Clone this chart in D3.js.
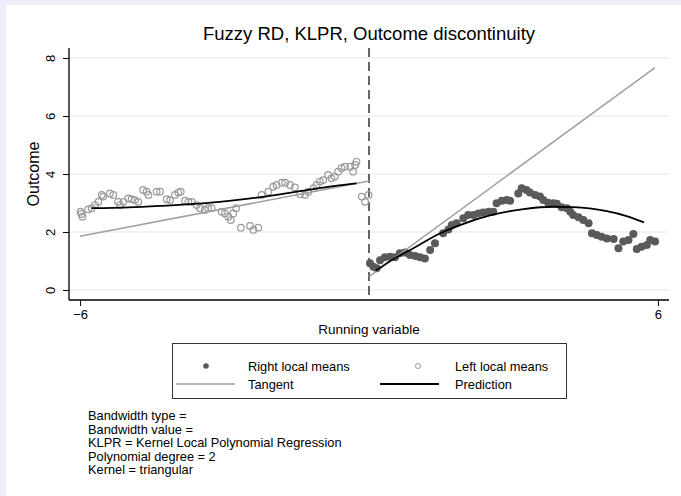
<!DOCTYPE html>
<html>
<head>
<meta charset="utf-8">
<script src="https://cdn.jsdelivr.net/npm/d3@7"></script>
<style>
	body { margin: 0; background: #eeeefb; }
	svg { display: block; font-family: "Liberation Sans", Arial, sans-serif; }
</style>
</head>
<body>
<div id="chart"></div>
<script>
// left local means (hollow), [running variable, outcome]
var leftMeans = [
	[-5.99, 2.70], [-5.95, 2.53], [-5.97, 2.62], [-5.83, 2.78], [-5.76, 2.82], [-5.69, 2.93], [-5.62, 3.04],
	[-5.55, 3.28], [-5.52, 3.22], [-5.38, 3.33], [-5.31, 3.28], [-5.21, 3.04], [-5.17, 2.93],
	[-5.10, 3.04], [-5.00, 3.16], [-4.93, 3.13], [-4.86, 3.10], [-4.79, 3.04], [-4.69, 3.45],
	[-4.62, 3.39], [-4.58, 3.28], [-4.41, 3.39], [-4.34, 3.39], [-4.20, 3.13], [-4.13, 3.10],
	[-4.03, 3.28], [-3.96, 3.36], [-3.91, 3.39], [-3.82, 3.08], [-3.75, 3.04], [-3.68, 3.04],
	[-3.58, 2.93], [-3.51, 2.82], [-3.41, 2.76], [-3.34, 2.82], [-3.27, 2.82], [-3.06, 2.70],
	[-2.99, 2.64], [-2.92, 2.53], [-2.87, 2.41], [-2.82, 2.64], [-2.76, 2.82], [-2.66, 2.15],
	[-2.47, 2.21], [-2.40, 2.07], [-2.30, 2.15], [-2.23, 3.28], [-2.09, 3.39], [-1.99, 3.56],
	[-1.92, 3.62], [-1.81, 3.70], [-1.74, 3.70], [-1.64, 3.62], [-1.54, 3.54], [-1.43, 3.30],
	[-1.33, 3.28], [-1.26, 3.39], [-1.15, 3.51], [-1.09, 3.62], [-1.02, 3.74], [-0.95, 3.79],
	[-0.85, 3.97], [-0.78, 3.85], [-0.71, 3.91], [-0.64, 4.08], [-0.57, 4.20], [-0.50, 4.25],
	[-0.39, 4.25], [-0.29, 4.31], [-0.26, 4.42], [-0.33, 4.08], [-0.15, 3.22], [-0.08, 3.04],
	[-0.01, 3.28]
];

// right local means (filled)
var rightMeans = [
	[0.02, 0.92], [0.09, 0.80], [0.16, 0.75], [0.23, 1.03], [0.33, 1.13], [0.44, 1.15], [0.54, 1.13],
	[0.64, 1.27], [0.75, 1.29], [0.85, 1.21], [0.96, 1.17], [1.06, 1.13], [1.16, 1.09],
	[1.27, 1.38], [1.37, 1.61], [1.54, 1.96], [1.65, 2.09], [1.72, 2.24], [1.82, 2.30],
	[1.96, 2.47], [2.06, 2.59], [2.17, 2.59], [2.27, 2.64], [2.37, 2.67], [2.48, 2.70],
	[2.58, 2.70], [2.65, 2.99], [2.76, 3.08], [2.86, 3.10], [2.93, 3.08], [3.10, 3.33],
	[3.17, 3.51], [3.27, 3.45], [3.34, 3.36], [3.45, 3.28], [3.55, 3.22], [3.62, 3.10],
	[3.72, 3.01], [3.83, 2.99], [3.90, 2.97], [4.00, 2.85], [4.11, 2.82], [4.18, 2.70],
	[4.24, 2.59], [4.35, 2.51], [4.45, 2.41], [4.56, 2.30], [4.63, 1.96], [4.73, 1.90],
	[4.83, 1.84], [4.94, 1.78], [5.08, 1.76], [5.18, 1.44], [5.28, 1.67], [5.39, 1.72],
	[5.49, 1.93], [5.56, 1.41], [5.66, 1.49], [5.77, 1.55], [5.84, 1.72], [5.94, 1.67]
];

// tangent lines at the cutoff
var tangentLeft = [[-6.0, 1.85], [0.0, 3.76]];
var tangentRight = [[0.0, 0.46], [5.94, 7.67]];

// prediction curves
var predictionLeft = [
	[-5.76, 2.82], [-5.0, 2.85], [-4.34, 2.90], [-3.7, 2.96], [-3.1, 3.04], [-2.5, 3.15],
	[-1.92, 3.28], [-1.23, 3.46], [-0.7, 3.59], [-0.26, 3.68]
];
var predictionRight = [
	[0.14, 0.66], [0.50, 1.06], [0.92, 1.44], [1.47, 1.95], [1.89, 2.24], [2.51, 2.57],
	[2.93, 2.72], [3.21, 2.79], [3.83, 2.87], [4.24, 2.86], [4.94, 2.72], [5.35, 2.55], [5.71, 2.33]
];

var xTicks = [-6, 6];
var yTicks = [0, 2, 4, 6, 8];

var legendItems = [
	{ label: 'Right local means', type: 'dot', col: 0, row: 0 },
	{ label: 'Left local means', type: 'ring', col: 1, row: 0 },
	{ label: 'Tangent', type: 'tangent', col: 0, row: 1 },
	{ label: 'Prediction', type: 'prediction', col: 1, row: 1 }
];

var notes = [
	'Bandwidth type =',
	'Bandwidth value =',
	'KLPR = Kernel Local Polynomial Regression',
	'Polynomial degree = 2',
	'Kernel = triangular'
];

var sizes = { width: 681, height: 496 };
var plot = { left: 69, right: 669, top: 48, bottom: 300 };
var font = 'Liberation Sans, Arial, sans-serif';

var svg = d3.select( '#chart' ).append( 'svg' )
	.attr( 'width', sizes.width )
	.attr( 'height', sizes.height );

svg.append( 'rect' )
	.attr( 'width', sizes.width ).attr( 'height', sizes.height )
	.attr( 'fill', '#eeeefb' );

svg.append( 'rect' )
	.attr( 'x', 6 ).attr( 'y', 5 )
	.attr( 'width', sizes.width - 6 ).attr( 'height', sizes.height - 5 )
	.attr( 'fill', '#ffffff' );

var x = d3.scaleLinear().domain( [ -6.23, 6.23 ] ).range( [ plot.left, plot.right ] );
var y = d3.scaleLinear().domain( [ -10 / 29, 8 + 10 / 29 ] ).range( [ plot.bottom, plot.top ] );

// gridlines
svg.append( 'g' ).selectAll( 'line' )
	.data( yTicks )
	.enter().append( 'line' )
	.attr( 'x1', plot.left ).attr( 'x2', plot.right )
	.attr( 'y1', function ( d ) { return y( d ); } )
	.attr( 'y2', function ( d ) { return y( d ); } )
	.style( 'stroke', '#e8e8e8' )
	.style( 'stroke-width', 1.2 );

// axes
var xAxis = svg.append( 'g' )
	.attr( 'transform', 'translate(0,' + plot.bottom + ')' )
	.call( d3.axisBottom( x ).tickValues( xTicks ).tickSize( 6 ).tickPadding( 4 )
		.tickFormat( function ( d ) { return d < 0 ? '\u2212' + Math.abs( d ) : d; } ) );
xAxis.select( '.domain' ).attr( 'd', 'M' + plot.left + ',0H' + plot.right ).style( 'stroke', '#000' ).style( 'stroke-width', 1.3 );
xAxis.selectAll( '.tick line' ).style( 'stroke', '#000' );
xAxis.selectAll( 'text' ).style( 'font-size', '13px' ).style( 'fill', '#000' ).style( 'font-family', font );

var yAxis = svg.append( 'g' )
	.attr( 'transform', 'translate(' + plot.left + ',0)' )
	.call( d3.axisLeft( y ).tickValues( yTicks ).tickSize( 6 ).tickPadding( 0 ) );
yAxis.select( '.domain' ).attr( 'd', 'M0,' + plot.top + 'V' + plot.bottom ).style( 'stroke', '#000' ).style( 'stroke-width', 1.3 );
yAxis.selectAll( '.tick line' ).style( 'stroke', '#000' );
yAxis.selectAll( 'text' )
	.attr( 'x', null ).attr( 'dy', null )
	.attr( 'text-anchor', 'middle' )
	.attr( 'transform', 'translate(-14.5,0) rotate(-90)' )
	.style( 'font-size', '13px' ).style( 'fill', '#000' ).style( 'font-family', font );

// cutoff
svg.append( 'line' )
	.attr( 'x1', x( 0 ) ).attr( 'x2', x( 0 ) )
	.attr( 'y1', plot.top ).attr( 'y2', plot.bottom )
	.style( 'stroke', '#333' )
	.style( 'stroke-width', 1.5 )
	.style( 'stroke-dasharray', '9,5' );

var line = d3.line()
	.x( function ( d ) { return x( d[0] ); } )
	.y( function ( d ) { return y( d[1] ); } );

// left local means
svg.append( 'g' ).selectAll( 'circle' )
	.data( leftMeans )
	.enter().append( 'circle' )
	.attr( 'cx', function ( d ) { return x( d[0] ); } )
	.attr( 'cy', function ( d ) { return y( d[1] ); } )
	.attr( 'r', 3.3 )
	.style( 'fill', 'none' )
	.style( 'stroke', '#9a9a9a' )
	.style( 'stroke-width', 1.2 );

// right local means
svg.append( 'g' ).selectAll( 'circle' )
	.data( rightMeans )
	.enter().append( 'circle' )
	.attr( 'cx', function ( d ) { return x( d[0] ); } )
	.attr( 'cy', function ( d ) { return y( d[1] ); } )
	.attr( 'r', 4 )
	.style( 'fill', '#5a5a5a' );

[ tangentLeft, tangentRight ].forEach( function ( t ) {
	svg.append( 'path' ).datum( t )
		.attr( 'd', line )
		.style( 'fill', 'none' )
		.style( 'stroke', '#a0a0a0' )
		.style( 'stroke-width', 1.5 );
} );

[ predictionLeft, predictionRight ].forEach( function ( p ) {
	svg.append( 'path' ).datum( p )
		.attr( 'd', line.curve( d3.curveMonotoneX ) )
		.style( 'fill', 'none' )
		.style( 'stroke', '#000' )
		.style( 'stroke-width', 1.8 );
} );

// titles
svg.append( 'text' )
	.attr( 'x', 369 ).attr( 'y', 40 )
	.attr( 'text-anchor', 'middle' )
	.style( 'font-size', '18.5px' )
	.text( 'Fuzzy RD, KLPR, Outcome discontinuity' );

svg.append( 'text' )
	.attr( 'transform', 'translate(39,' + y( 4 ) + ') rotate(-90)' )
	.attr( 'text-anchor', 'middle' )
	.style( 'font-size', '16px' )
	.text( 'Outcome' );

svg.append( 'text' )
	.attr( 'x', 369 ).attr( 'y', 334 )
	.attr( 'text-anchor', 'middle' )
	.style( 'font-size', '13.5px' )
	.text( 'Running variable' );

// legend
var legend = svg.append( 'g' );
legend.append( 'rect' )
	.attr( 'x', 172.5 ).attr( 'y', 343.5 )
	.attr( 'width', 394 ).attr( 'height', 55 )
	.style( 'fill', '#fff' )
	.style( 'stroke', '#333' )
	.style( 'stroke-width', 1 );

var colX = [ 176, 380 ];
var rowY = [ 366, 384 ];
legendItems.forEach( function ( it ) {
	var g = legend.append( 'g' ).attr( 'transform', 'translate(' + colX[it.col] + ',' + rowY[it.row] + ')' );
	if ( it.type === 'dot' ) {
		g.append( 'circle' ).attr( 'cx', 30 ).attr( 'cy', 0 ).attr( 'r', 2.8 ).style( 'fill', '#5a5a5a' );
	} else if ( it.type === 'ring' ) {
		g.append( 'circle' ).attr( 'cx', 38 ).attr( 'cy', 0 ).attr( 'r', 2.5 ).style( 'fill', 'none' ).style( 'stroke', '#9a9a9a' );
	} else {
		g.append( 'line' ).attr( 'x1', 0 ).attr( 'x2', 59 ).attr( 'y1', 0 ).attr( 'y2', 0 )
			.style( 'stroke', it.type === 'tangent' ? '#a0a0a0' : '#000' )
			.style( 'stroke-width', it.type === 'tangent' ? 1.5 : 1.8 );
	}
	g.append( 'text' )
		.attr( 'x', it.col === 0 ? 72 : 75 ).attr( 'y', 4.5 )
		.style( 'font-size', '12.8px' )
		.text( it.label );
} );

// notes
svg.append( 'g' ).selectAll( 'text' )
	.data( notes )
	.enter().append( 'text' )
	.attr( 'x', 88 )
	.attr( 'y', function ( d, i ) { return 420 + i * 13.5; } )
	.style( 'font-size', '12.8px' )
	.text( function ( d ) { return d; } );
</script>
</body>
</html>
